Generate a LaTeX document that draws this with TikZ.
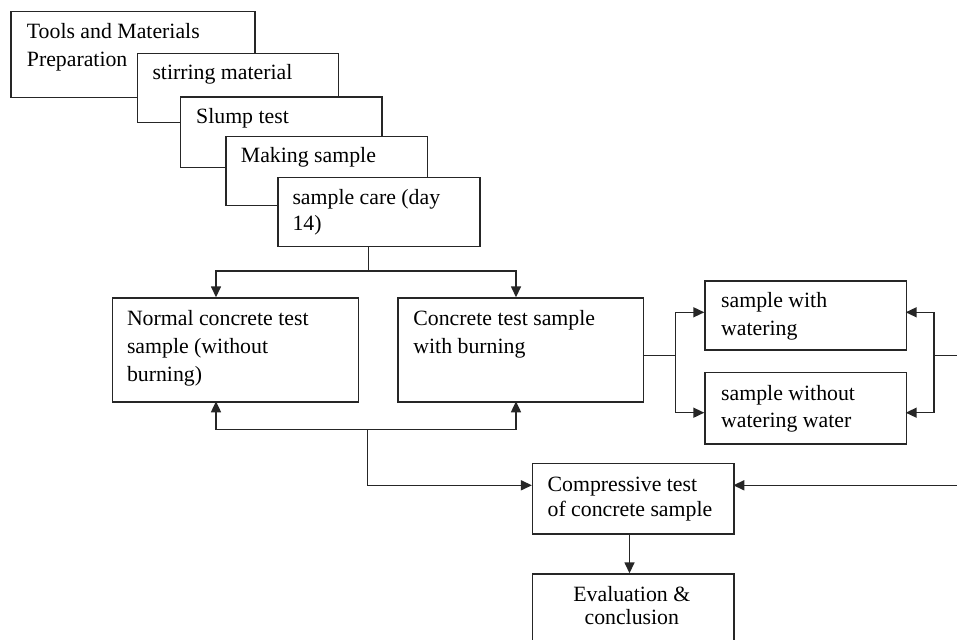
\documentclass[tikz,border=0pt]{standalone}
\usepackage{fontspec}
\setmainfont{Liberation Serif}
\usetikzlibrary{arrows.meta}
\begin{document}
\begin{tikzpicture}[x=1pt,y=-1pt,
  box/.style={draw=black!85, line width=1.5pt, fill=white, anchor=north west, inner sep=0pt},
  txt/.style={anchor=base west, inner sep=0pt, font=\fontsize{21.8}{28}\selectfont},
  ctxt/.style={anchor=base, inner sep=0pt, font=\fontsize{21.8}{28}\selectfont},
  conn/.style={draw=black!85, line width=1.5pt},
  arr/.style={conn, -{Triangle[length=11pt,width=10pt]}}]
\clip (0,0) rectangle (957,639);
\fill[white] (0,0) rectangle (957,639);
% stacked boxes
\node[box, minimum width=243.7pt, minimum height=85.7pt] (tools) at (10.3,11) {};
\node[txt] (toolsA) at (26.7,38.3) {Tools and Materials};
\node[txt] (toolsB) at (26.7,66.7) {Preparation};
\node[box, minimum width=201pt, minimum height=69.3pt] (stir) at (136.7,52.7) {};
\node[txt] (stirA) at (152.3,80) {stirring material};
\node[box, minimum width=201.3pt, minimum height=70.4pt] (slump) at (179.7,96.3) {};
\node[txt] (slumpA) at (196,124) {Slump test};
\node[box, minimum width=201.4pt, minimum height=69pt] (make) at (225.3,135.7) {};
\node[txt] (makeA) at (240.7,162.3) {Making sample};
\node[box, minimum width=202pt, minimum height=69pt] (care) at (277,176.7) {};
\node[txt] (careA) at (292.3,204) {sample care (day};
\node[txt] (careB) at (292.3,230) {14)};
% middle boxes
\node[box, minimum width=246.1pt, minimum height=104pt] (normal) at (111.8,297.3) {};
\node[txt] (normalA) at (126.8,325) {Normal concrete test};
\node[txt] (normalB) at (126.8,353.3) {sample (without};
\node[txt] (normalC) at (126.8,381.7) {burning)};
\node[box, minimum width=245.8pt, minimum height=104pt] (burn) at (397.1,297.3) {};
\node[txt] (burnA) at (413.2,325) {Concrete test sample};
\node[txt] (burnB) at (413.2,353) {with burning};
\node[box, minimum width=201.4pt, minimum height=69.3pt] (water) at (704.3,280) {};
\node[txt] (waterA) at (721,307.3) {sample with};
\node[txt] (waterB) at (721,335) {watering};
\node[box, minimum width=201.4pt, minimum height=71.6pt] (nowater) at (704.3,371.7) {};
\node[txt] (nowaterA) at (721,400) {sample without};
\node[txt] (nowaterB) at (721,427) {watering water};
% bottom boxes
\node[box, minimum width=201.4pt, minimum height=70.6pt] (comp) at (531.9,462.7) {};
\node[txt] (compA) at (547.4,491) {Compressive test};
\node[txt] (compB) at (547.4,516) {of concrete sample};
\node[box, minimum width=201.4pt, minimum height=90pt] (eval) at (531.9,573.3) {};
\node[ctxt] (evalA) at (631.8,601) {Evaluation \&};
\node[ctxt] (evalB) at (631.8,624) {conclusion};
% coordinates
\coordinate (splitTop) at (368.6,271);
\coordinate (nTop) at (216,297.3);
\coordinate (bTop) at (516,297.3);
\coordinate (nBot) at (216,401.3);
\coordinate (bBot) at (516,401.3);
\coordinate (joinBot) at (367.5,429.5);
\coordinate (burnOut) at (642.9,355.7);
\coordinate (forkL) at (675.7,355.7);
\coordinate (waterIn) at (704.3,312.3);
\coordinate (nowaterIn) at (704.3,412.7);
\coordinate (waterR) at (905.7,312.3);
\coordinate (nowaterR) at (905.7,412.7);
\coordinate (forkR) at (934,355.3);
\coordinate (edgeR) at (957,355.3);
\coordinate (edgeC) at (957,485.3);
\coordinate (compL) at (531.9,485.3);
\coordinate (compR) at (733.3,485.3);
\coordinate (compDown) at (629.5,533.3);
% connectors
\draw[conn] (splitTop |- care.south) -- (splitTop);
\draw[arr] (splitTop) -| (nTop);
\draw[arr] (splitTop) -| (bTop);
\draw[arr] (joinBot) -| (nBot);
\draw[arr] (joinBot) -| (bBot);
\draw[arr] (joinBot) |- (compL);
\draw[conn] (burnOut) -- (forkL);
\draw[arr] (forkL) |- (waterIn);
\draw[arr] (forkL) |- (nowaterIn);
\draw[conn] (edgeR) -- (forkR);
\draw[arr] (forkR) |- (waterR);
\draw[arr] (forkR) |- (nowaterR);
\draw[arr] (edgeC) -- (compR);
\draw[arr] (compDown) -- (compDown |- eval.north);
\end{tikzpicture}
\end{document}
